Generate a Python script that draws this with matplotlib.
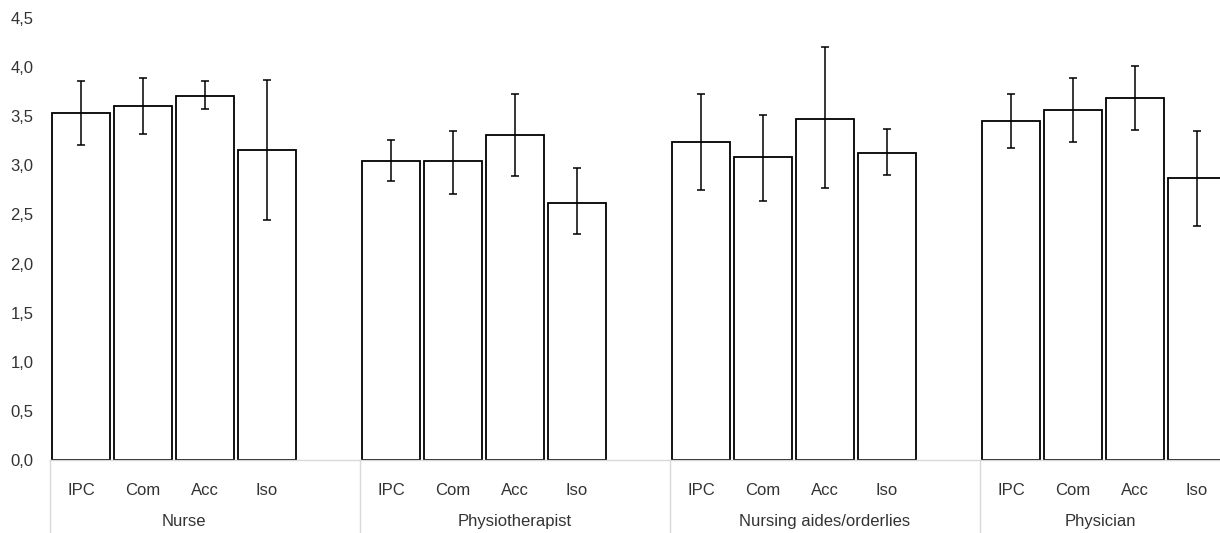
import matplotlib
matplotlib.use("Agg")
import matplotlib.pyplot as plt
import matplotlib.transforms as mtransforms
import numpy as np

plt.rcParams['font.family'] = ['Liberation Sans', 'DejaVu Sans']

groups = ["Nurse", "Physiotherapist", "Nursing aides/orderlies", "Physician"]
cats = ["IPC", "Com", "Acc", "Iso"]

# mean per group (IPC, Com, Acc, Iso)
means = [
    [3.53, 3.60, 3.71, 3.16],
    [3.04, 3.04, 3.31, 2.62],
    [3.24, 3.08, 3.47, 3.13],
    [3.45, 3.56, 3.69, 2.87],
]
err_hi = [
    [3.86, 3.89, 3.86, 3.87],
    [3.26, 3.35, 3.73, 2.97],
    [3.73, 3.51, 4.20, 3.37],
    [3.73, 3.89, 4.01, 3.35],
]
err_lo = [
    [3.21, 3.32, 3.57, 2.44],
    [2.84, 2.71, 2.89, 2.30],
    [2.75, 2.64, 2.77, 2.90],
    [3.18, 3.24, 3.36, 2.38],
]
yticks = [0.0, 0.5, 1.0, 1.5, 2.0, 2.5, 3.0, 3.5, 4.0, 4.5]

fig = plt.figure(figsize=(12.2, 5.33), dpi=100)
ax = fig.add_axes([50/1220, 73/533, 1170/1220, 442/533])

slots = 5  # 4 categories + one empty slot per group
grey = "#d9d9d9"
txt = "#333333"
for g, name in enumerate(groups):
    x = g*slots + np.arange(len(cats)) + 0.5
    m = np.array(means[g])
    lo = m - np.array(err_lo[g])
    hi = np.array(err_hi[g]) - m
    ax.bar(x, m, width=0.92, color="white", edgecolor="black", linewidth=1.3, zorder=2)
    ax.errorbar(x, m, yerr=[lo, hi], fmt="none", ecolor="black", elinewidth=1.1,
                capsize=3, capthick=1.1, zorder=3)

trans = mtransforms.blended_transform_factory(ax.transData, ax.transAxes)
xmax = 1170/62
for g, name in enumerate(groups):
    for c, lab in enumerate(cats):
        ax.text(g*slots + c + 0.5, -0.069, lab, transform=trans, ha="center", va="center",
                fontsize=12, color=txt)
    left = g*slots
    right = min(left + slots, xmax)
    cx = (left + right) / 2 if g > 0 else left + 2.16
    ax.text(cx, -0.14, name, transform=trans, ha="center", va="center",
            fontsize=12, color=txt)
    ax.plot([left, left], [0, -0.17], transform=trans, color=grey, lw=1, clip_on=False)

ax.set_xlim(0, xmax)
ax.set_ylim(0, 4.5)
ax.set_yticks(yticks)
ax.set_yticklabels([f"{v:.1f}".replace(".", ",") for v in yticks], fontsize=12, color=txt)
ax.tick_params(axis="y", length=0, pad=12)
ax.set_xticks([])
for s in ["top", "right", "left"]:
    ax.spines[s].set_visible(False)
ax.spines["bottom"].set_color(grey)
ax.spines["bottom"].set_linewidth(1)

fig.savefig("out.png", dpi=100)
